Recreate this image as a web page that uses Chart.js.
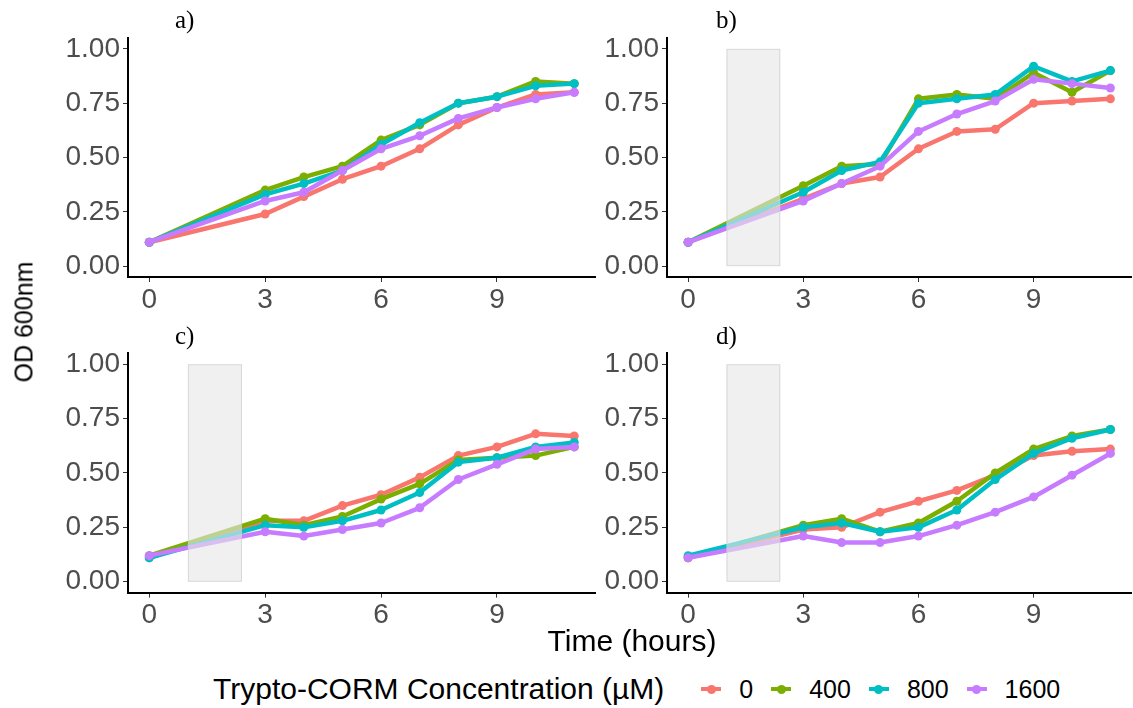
<!DOCTYPE html>
<html>
<head>
<meta charset="utf-8">
<script src="https://cdn.jsdelivr.net/npm/chart.js@4.4.1/dist/chart.umd.min.js"></script>
<style>
  html, body { margin: 0; padding: 0; background: #fff; overflow: hidden; }
  body { width: 1133px; height: 708px; position: relative; font-family: 'Liberation Sans', Arial, sans-serif; }
  canvas { position: absolute; }
  .tag { position: absolute; font-family: 'Liberation Serif', 'Times New Roman', serif; font-size: 25px; color: #000; line-height: 1; }
  #xTitle { position: absolute; left: 532px; width: 200px; top: 626px; text-align: center; font-size: 30px; line-height: 1; color: #000; }
  #yTitle { position: absolute; left: 24px; top: 322px; font-size: 25px; line-height: 1; color: #000;
            transform: translate(-50%, -50%) rotate(-90deg); white-space: nowrap; }
  #legend { position: absolute; left: 213px; top: 674px; display: flex; align-items: center; white-space: nowrap; }
  #legend .ttl { font-size: 30px; line-height: 1; margin-right: 37px; }
  #legend .key { position: relative; width: 20px; height: 20px; margin-right: 18px; }
  #legend .key .ln { position: absolute; left: 0; top: 8px; width: 20px; height: 4px; }
  #legend .key .pt { position: absolute; left: 5.5px; top: 5.5px; width: 9px; height: 9px; border-radius: 50%; }
  #legend .lab { font-size: 25px; line-height: 1; margin-right: 18px; }
</style>
</head>
<body>
<canvas id="panelA" width="600" height="320" style="left:0px;top:0px;width:600px;height:320px"></canvas>
<canvas id="panelB" width="536" height="320" style="left:600px;top:0px;width:536px;height:320px"></canvas>
<canvas id="panelC" width="600" height="310" style="left:0px;top:320px;width:600px;height:310px"></canvas>
<canvas id="panelD" width="536" height="310" style="left:600px;top:320px;width:536px;height:310px"></canvas>

<div class="tag" style="left:175px;top:7px">a)</div>
<div class="tag" style="left:716px;top:7px">b)</div>
<div class="tag" style="left:175px;top:323px">c)</div>
<div class="tag" style="left:716px;top:323px">d)</div>

<div id="yTitle">OD 600nm</div>
<div id="xTitle">Time (hours)</div>
<div id="legend"><span class="ttl">Trypto-CORM Concentration (µM)</span></div>

<script>
// sampling times (hours)
var hours = [0, 3, 4, 5, 6, 7, 8, 9, 10, 11];
var concentrations = ['0', '400', '800', '1600'];
var seriesColors = ['#F8766D', '#7CAE00', '#00BFC4', '#C77CFF'];
var xTicks = [0, 3, 6, 9];
var yTicks = [0, 0.25, 0.5, 0.75, 1];

// window that is shaded in panels b-d (hours, OD)
var shadeHours = [1, 2.4];
var shadeOD = [0, 1];

// OD600 per concentration, panel a
var a0    = [0.11, 0.24, 0.32, 0.40, 0.46, 0.54, 0.65, 0.73, 0.79, 0.80];
var a400  = [0.11, 0.35, 0.41, 0.46, 0.58, 0.65, 0.75, 0.78, 0.85, 0.84];
var a800  = [0.11, 0.33, 0.38, 0.44, 0.56, 0.66, 0.75, 0.78, 0.83, 0.84];
var a1600 = [0.11, 0.30, 0.34, 0.44, 0.54, 0.60, 0.68, 0.73, 0.77, 0.80];

// panel b
var b0    = [0.11, 0.31, 0.38, 0.41, 0.54, 0.62, 0.63, 0.75, 0.76, 0.77];
var b400  = [0.11, 0.37, 0.46, 0.47, 0.77, 0.79, 0.77, 0.89, 0.80, 0.90];
var b800  = [0.11, 0.34, 0.44, 0.48, 0.75, 0.77, 0.79, 0.92, 0.85, 0.90];
var b1600 = [0.11, 0.30, 0.38, 0.46, 0.62, 0.70, 0.76, 0.86, 0.84, 0.82];

// panel c
var c0    = [0.11, 0.28, 0.28, 0.35, 0.40, 0.48, 0.58, 0.62, 0.68, 0.67];
var c400  = [0.12, 0.29, 0.26, 0.30, 0.38, 0.45, 0.56, 0.57, 0.58, 0.62];
var c800  = [0.11, 0.26, 0.25, 0.28, 0.33, 0.41, 0.55, 0.57, 0.62, 0.64];
var c1600 = [0.12, 0.23, 0.21, 0.24, 0.27, 0.34, 0.47, 0.54, 0.61, 0.62];

// panel d
var d0    = [0.11, 0.24, 0.25, 0.32, 0.37, 0.42, 0.49, 0.58, 0.60, 0.61];
var d400  = [0.11, 0.26, 0.29, 0.23, 0.27, 0.37, 0.50, 0.61, 0.67, 0.70];
var d800  = [0.12, 0.25, 0.27, 0.23, 0.25, 0.33, 0.47, 0.59, 0.66, 0.70];
var d1600 = [0.11, 0.21, 0.18, 0.18, 0.21, 0.26, 0.32, 0.39, 0.49, 0.59];

var fontFamily = "'Liberation Sans', Arial, sans-serif";

// grey box drawn over the lines
var shadePlugin = {
    id: 'shade',
    afterDatasetsDraw: function(chart, args, opts) {
        if (!opts.show) return;
        var x = chart.scales.x, y = chart.scales.y, ctx = chart.ctx;
        var left = x.getPixelForValue(shadeHours[0]);
        var right = x.getPixelForValue(shadeHours[1]);
        var top = y.getPixelForValue(shadeOD[1]);
        var bottom = y.getPixelForValue(shadeOD[0]);
        ctx.save();
        ctx.fillStyle = 'rgba(230,230,230,0.62)';
        ctx.fillRect(left, top, right - left, bottom - top);
        ctx.strokeStyle = 'rgba(200,200,200,0.6)';
        ctx.lineWidth = 1;
        ctx.strokeRect(left + 0.5, top + 0.5, right - left - 1, bottom - top - 1);
        ctx.restore();
    }
};

function makePanel(id, series, shaded, box) {
    var datasets = series.map(function(vals, i) {
        return {
            label: concentrations[i],
            data: hours.map(function(h, j) { return { x: h, y: vals[j] }; }),
            borderColor: seriesColors[i],
            backgroundColor: seriesColors[i],
            borderWidth: 4.5,
            borderJoinStyle: 'round',
            borderCapStyle: 'round',
            pointRadius: 4.5,
            pointBorderWidth: 0,
            tension: 0,
            order: series.length - i
        };
    });
    var ctx = document.getElementById(id).getContext('2d');
    return new Chart(ctx, {
        type: 'line',
        data: { datasets: datasets },
        plugins: [shadePlugin],
        options: {
            responsive: false,
            animation: false,
            layout: { padding: { top: box.top, right: box.right, left: 0, bottom: 0 } },
            plugins: {
                legend: { display: false },
                tooltip: { enabled: false },
                shade: { show: shaded }
            },
            scales: {
                x: {
                    type: 'linear',
                    min: -0.55,
                    max: 11.55,
                    afterBuildTicks: function(s) { s.ticks = xTicks.map(function(v) { return { value: v }; }); },
                    afterFit: function(s) { s.height = box.xAxis; },
                    grid: { drawOnChartArea: false, drawTicks: true, tickLength: 5, color: '#333333' },
                    border: { display: true, color: '#000000', width: 2 },
                    ticks: { color: '#4D4D4D', font: { family: fontFamily, size: 28 }, padding: 1, maxRotation: 0, autoSkip: false }
                },
                y: {
                    min: -0.05,
                    max: 1.05,
                    afterBuildTicks: function(s) { s.ticks = yTicks.map(function(v) { return { value: v }; }); },
                    afterFit: function(s) { s.width = box.yAxis; },
                    grid: { drawOnChartArea: false, drawTicks: true, tickLength: 5, color: '#333333' },
                    border: { display: true, color: '#000000', width: 2 },
                    ticks: {
                        color: '#4D4D4D', font: { family: fontFamily, size: 28 }, padding: 3, autoSkip: false,
                        callback: function(v) { return Number(v).toFixed(2); }
                    }
                }
            }
        }
    });
}

makePanel('panelA', [a0, a400, a800, a1600], false, { top: 38, right: 4, xAxis: 43, yAxis: 128 });
makePanel('panelB', [b0, b400, b800, b1600], true,  { top: 38, right: 1.5, xAxis: 43, yAxis: 67 });
makePanel('panelC', [c0, c400, c800, c1600], true,  { top: 33.4, right: 4, xAxis: 37.4, yAxis: 128 });
makePanel('panelD', [d0, d400, d800, d1600], true,  { top: 33.4, right: 1.5, xAxis: 37.4, yAxis: 67 });

// legend keys: short line with a dot, as in the plotted series
var legend = document.getElementById('legend');
concentrations.forEach(function(name, i) {
    var key = document.createElement('span');
    key.className = 'key';
    key.innerHTML = '<span class="ln" style="background:' + seriesColors[i] + '"></span>' +
                    '<span class="pt" style="background:' + seriesColors[i] + '"></span>';
    var lab = document.createElement('span');
    lab.className = 'lab';
    lab.textContent = name;
    legend.appendChild(key);
    legend.appendChild(lab);
});
</script>
</body>
</html>
